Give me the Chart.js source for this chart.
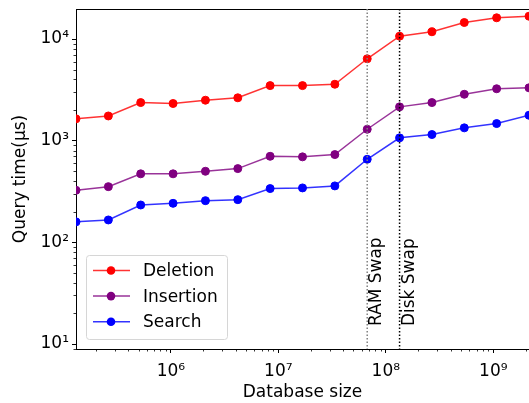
<!DOCTYPE html>
<html>
<head>
<meta charset="utf-8">
<script src="https://cdn.jsdelivr.net/npm/chart.js@4.4.0/dist/chart.umd.min.js"></script>
<style>
  html, body { margin: 0; padding: 0; background: #ffffff; }
  #wrap { width: 529px; height: 403px; position: relative; }
</style>
</head>
<body>
<div id="wrap"><canvas id="myChart"></canvas></div>
<script>
// Database sizes: 2^17 .. 2^31
var sizes = [131072, 262144, 524288, 1048576, 2097152, 4194304, 8388608, 16777216,
             33554432, 67108864, 134217728, 268435456, 536870912, 1073741824, 2147483648];

// Query times in microseconds
var deletion  = [1640, 1750, 2370, 2320, 2500, 2640, 3480, 3480, 3590, 6390, 10660, 11780, 14530, 16170, 16760];
var insertion = [325, 353, 472, 472, 500, 531, 702, 693, 730, 1295, 2150, 2370, 2860, 3240, 3310];
var search    = [159, 166, 233, 242, 257, 263, 338, 343, 359, 656, 1066, 1149, 1337, 1473, 1778];

var seriesNames = ['Deletion', 'Insertion', 'Search'];

var xTicks = [1e6, 1e7, 1e8, 1e9];
var xTickLabels = ['10⁶', '10⁷', '10⁸', '10⁹'];
var yTicks = [10, 100, 1000, 10000];
var yTickLabels = ['10¹', '10²', '10³', '10⁴'];

// Vertical markers
var swapSizes = [67108864, 134217728];
var swapLabels = ['RAM Swap', 'Disk Swap'];
var swapTextY = 15;  // where the rotated labels start (data units)

var FONT = 'DejaVu Sans';


function toPoints(values) {
  return sizes.map(function(s, i) { return { x: s, y: values[i] }; });
}

function makeDataset(label, values, line, fill) {
  return {
    label: label,
    data: toPoints(values),
    borderColor: line,
    backgroundColor: fill,
    pointBackgroundColor: fill,
    pointBorderColor: fill,
    pointRadius: 4,
    pointBorderWidth: 1,
    borderWidth: 1.5,
    fill: false,
    tension: 0,
    clip: 0
  };
}

function minorTicks(min, max) {
  var out = [];
  for (var e = Math.floor(Math.log10(min)); e <= Math.ceil(Math.log10(max)); e++) {
    for (var m = 2; m <= 9; m++) {
      var v = m * Math.pow(10, e);
      if (v >= min && v <= max) out.push(v);
    }
  }
  return out;
}

function noPadding(scale) {
  scale.paddingLeft = 0;
  scale.paddingRight = 0;
  scale.paddingTop = 0;
  scale.paddingBottom = 0;
}


var extras = {
  id: 'extras',
  afterDatasetsDraw: function(chart) {
    var ctx = chart.ctx;
    var area = chart.chartArea;
    var xs = chart.scales.x;
    var ys = chart.scales.y;

    ctx.save();

    // top spine
    ctx.strokeStyle = '#000000';
    ctx.lineWidth = 1;
    ctx.beginPath();
    ctx.moveTo(area.left, area.top + 0.5);
    ctx.lineTo(area.right, area.top + 0.5);
    ctx.stroke();

    // minor ticks
    ctx.lineWidth = 0.8;
    minorTicks(xs.min, xs.max).forEach(function(v) {
      var px = Math.round(xs.getPixelForValue(v)) + 0.5;
      ctx.beginPath();
      ctx.moveTo(px, area.bottom);
      ctx.lineTo(px, area.bottom + 2.5);
      ctx.stroke();
    });
    minorTicks(ys.min, ys.max).forEach(function(v) {
      var py = Math.round(ys.getPixelForValue(v)) + 0.5;
      ctx.beginPath();
      ctx.moveTo(area.left, py);
      ctx.lineTo(area.left - 2.5, py);
      ctx.stroke();
    });

    // swap lines and labels
    var swapColors = ['#808080', '#000000'];
    swapSizes.forEach(function(s, i) {
      var px = xs.getPixelForValue(s);
      ctx.strokeStyle = swapColors[i];
      ctx.lineWidth = 1.5;
      ctx.setLineDash([1.5, 2]);
      ctx.beginPath();
      ctx.moveTo(px, area.top);
      ctx.lineTo(px, area.bottom);
      ctx.stroke();
      ctx.setLineDash([]);

      ctx.save();
      ctx.translate(px + 14, ys.getPixelForValue(swapTextY));
      ctx.rotate(-Math.PI / 2);
      ctx.fillStyle = '#000000';
      ctx.font = '17px "' + FONT + '"';
      ctx.textAlign = 'left';
      ctx.textBaseline = 'alphabetic';
      ctx.fillText(swapLabels[i], 0, 0);
      ctx.restore();
    });

    // legend
    var bx = 86.5, by = 255.5, bw = 141, bh = 84;
    ctx.fillStyle = 'rgba(255,255,255,0.8)';
    ctx.strokeStyle = '#d6d6d6';
    ctx.lineWidth = 1;
    ctx.beginPath();
    ctx.roundRect(bx, by, bw, bh, 3);
    ctx.fill();
    ctx.stroke();

    chart.data.datasets.forEach(function(ds, i) {
      var cy = 270.5 + i * 25.6;
      ctx.strokeStyle = ds.borderColor;
      ctx.lineWidth = 1.5;
      ctx.beginPath();
      ctx.moveTo(93, cy);
      ctx.lineTo(130, cy);
      ctx.stroke();
      ctx.fillStyle = ds.pointBackgroundColor;
      ctx.beginPath();
      ctx.arc(111, cy, 4.3, 0, Math.PI * 2);
      ctx.fill();
      ctx.fillStyle = '#000000';
      ctx.font = '17px "' + FONT + '"';
      ctx.textAlign = 'left';
      ctx.textBaseline = 'middle';
      ctx.fillText(ds.label, 143, cy + 1);
    });

    ctx.restore();
  }
};


var chart = new Chart(document.getElementById('myChart'), {
  type: 'line',
  data: {
    datasets: [
      makeDataset(seriesNames[0], deletion, 'rgba(255,0,0,0.8)', '#ff0000'),
      makeDataset(seriesNames[1], insertion, 'rgba(128,0,128,0.8)', '#800080'),
      makeDataset(seriesNames[2], search, 'rgba(0,0,255,0.8)', '#0000ff')
    ]
  },
  options: {
    animation: false,
    responsive: true,
    maintainAspectRatio: false,
    layout: {
      autoPadding: false,  // let the markers at the edges be cut, like the original
      padding: { top: 9, right: 0, left: 0, bottom: 0 }
    },
    scales: {
      x: {
        type: 'logarithmic',
        min: sizes[0],
        max: sizes[sizes.length - 1],
        afterBuildTicks: function(scale) {
          scale.ticks = xTicks.map(function(v) { return { value: v }; });
        },
        afterFit: function(scale) { scale.height = 54; noPadding(scale); },
        ticks: {
          color: '#000000',
          font: { family: FONT, size: 17 },
          padding: 8,
          maxRotation: 0,
          autoSkip: false,
          callback: function(value) { return xTickLabels[xTicks.indexOf(value)]; }
        },
        grid: { display: true, drawOnChartArea: false, drawTicks: true, tickLength: 4, color: '#000000' },
        border: { display: true, color: '#000000', width: 1 },
        title: {
          display: true,
          text: 'Database size',
          color: '#000000',
          font: { family: FONT, size: 17 },
          padding: { top: 0, bottom: 0 }
        }
      },
      y: {
        type: 'logarithmic',
        min: 8.93,
        max: 19730,
        afterBuildTicks: function(scale) {
          scale.ticks = yTicks.map(function(v) { return { value: v }; });
        },
        afterFit: function(scale) { scale.width = 76; noPadding(scale); },
        ticks: {
          color: '#000000',
          font: { family: FONT, size: 17 },
          padding: 3,
          autoSkip: false,
          callback: function(value) { return yTickLabels[yTicks.indexOf(value)]; }
        },
        grid: { display: true, drawOnChartArea: false, drawTicks: true, tickLength: 4, color: '#000000' },
        border: { display: true, color: '#000000', width: 1 },
        title: {
          display: true,
          text: 'Query time(μs)',
          color: '#000000',
          font: { family: FONT, size: 17 },
          padding: { top: 10, bottom: 0 }
        }
      }
    },
    plugins: {
      legend: { display: false },
      tooltip: { enabled: false }
    }
  },
  plugins: [extras]
});
</script>
</body>
</html>
